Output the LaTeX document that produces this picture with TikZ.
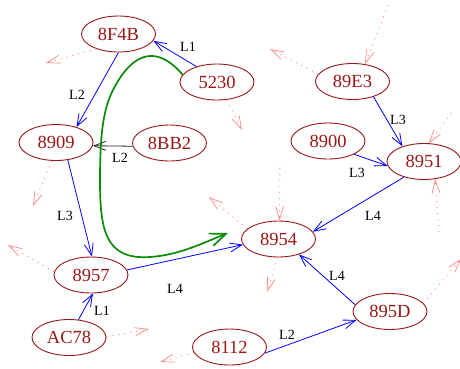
\documentclass[tikz,border=0pt]{standalone}
\usepackage{fontspec}
\setmainfont{Liberation Serif}
\usetikzlibrary{shapes.geometric,arrows.meta}
\definecolor{nodered}{RGB}{155,22,22}
\definecolor{pinkish}{RGB}{255,135,135}
\definecolor{edgeblue}{RGB}{0,0,255}
\definecolor{curvegreen}{RGB}{10,140,10}
\tikzset{
  nd/.style={ellipse,draw=nodered,line width=0.9pt,text=nodered,minimum width=74pt,minimum height=36pt,inner sep=0pt,font=\fontsize{18.5}{20}\selectfont},
  lbl/.style={font=\fontsize{14}{16}\selectfont,inner sep=0pt},
  be/.style={draw=edgeblue,line width=0.8pt,-{Straight Barb[length=12pt,width=9pt,line width=0.8pt]}},
  ke/.style={draw=black!85,line width=0.8pt,-{Straight Barb[length=12pt,width=9pt,line width=0.8pt]}},
  pe/.style={draw=pinkish,line width=0.9pt,dash pattern=on 1pt off 5pt,-{Straight Barb[length=13pt,width=8pt,line width=0.7pt]}},
  ge/.style={draw=curvegreen,line width=1.7pt,-{Straight Barb[length=16pt,width=13pt,line width=1.7pt]}}
}
\begin{document}
\begin{tikzpicture}[x=1pt,y=-1pt]
\useasboundingbox (0,0) rectangle (460,368);
% nodes
\node[nd] (n8F4B) at (118.5,34) {8F4B};
\node[nd] (n5230) at (217,82) {5230};
\node[nd] (n8909) at (56,142.5) {8909};
\node[nd] (n8BB2) at (169.5,143) {8BB2};
\node[nd] (n89E3) at (352.5,81.5) {89E3};
\node[nd] (n8900) at (328,141) {8900};
\node[nd] (n8951) at (424,161.5) {8951};
\node[nd] (n8954) at (278.5,239) {8954};
\node[nd] (n8957) at (91,275) {8957};
\node[nd] (nAC78) at (69,337.5) {AC78};
\node[nd] (n8112) at (229.5,347) {8112};
\node[nd] (n895D) at (390,311.5) {895D};
% blue / black edges
\draw[be] (n5230.143) -- (n8F4B.-11);
\draw[be] (n8F4B.270) -- (n8909.37);
\draw[ke] (n8BB2.185) -- (n8909.-5);
\draw[be] (n8909.-56) -- (n8957.87);
\draw[be] (nAC78.62) -- (n8957.-84);
\draw[be] (n8957.8) -- (n8954.189);
\draw[be] (n89E3.-36) -- (n8951.145);
\draw[be] (n8900.-27) -- (n8951.187);
\draw[be] (n8951.218) -- (n8954.12);
\draw[be] (n895D.169) -- (n8954.-37);
\draw[be] (n8112.-10) -- (n895D.194);
% labels
\node[lbl] (l1) at (188,47) {L1};
\node[lbl] (l2) at (77,95) {L2};
\node[lbl] (l3) at (120,158) {L2};
\node[lbl] (l4) at (65,216) {L3};
\node[lbl] (l5) at (102,311) {L1};
\node[lbl] (l6) at (175,289) {L4};
\node[lbl] (l7) at (398,120) {L3};
\node[lbl] (l8) at (357,173) {L3};
\node[lbl] (l9) at (373,216) {L4};
\node[lbl] (l10) at (337,276) {L4};
\node[lbl] (l11) at (287,335) {L2};
% green curve
\coordinate (gend) at (228,233);
\draw[ge] (n5230.168) .. controls (160,48) and (135,47) .. (113,90)
  .. controls (104,108) and (100,130) .. (100,180)
  .. controls (100,230) and (105,260) .. (150,257)
  .. controls (180,255) and (205,242) .. (gend);
% pink dotted arrows
\coordinate (p1) at (46,63);
\coordinate (p2) at (242,130);
\coordinate (p3) at (270,49);
\coordinate (p4) at (388,5);
\coordinate (p5) at (451,113);
\coordinate (p6) at (439,232);
\coordinate (p7) at (461,259);
\coordinate (p8) at (267,292);
\coordinate (p9) at (280,162);
\coordinate (p10) at (209,197);
\coordinate (p11) at (33,206);
\coordinate (p12) at (8,245);
\coordinate (p13) at (149,329);
\coordinate (p14) at (160,362);
\draw[pe] (n8F4B.214) -- (p1);
\draw[pe] (n5230.299) -- (p2);
\draw[pe] (n89E3.168) -- (p3);
\draw[pe] (p4) -- (n89E3.54);
\draw[pe] (p5) -- (n8951.75);
\draw[pe] (p6) -- (n8951.-58);
\draw[pe] (n895D.14) -- (p7);
\draw[pe] (n8954.268) -- (p8);
\draw[pe] (p9) -- (n8954.87);
\draw[pe] (n8954.162) -- (p10);
\draw[pe] (n8909.257) -- (p11);
\draw[pe] (n8957.175) -- (p12);
\draw[pe] (nAC78.1) -- (p13);
\draw[pe] (n8112.189) -- (p14);
\end{tikzpicture}
\end{document}
